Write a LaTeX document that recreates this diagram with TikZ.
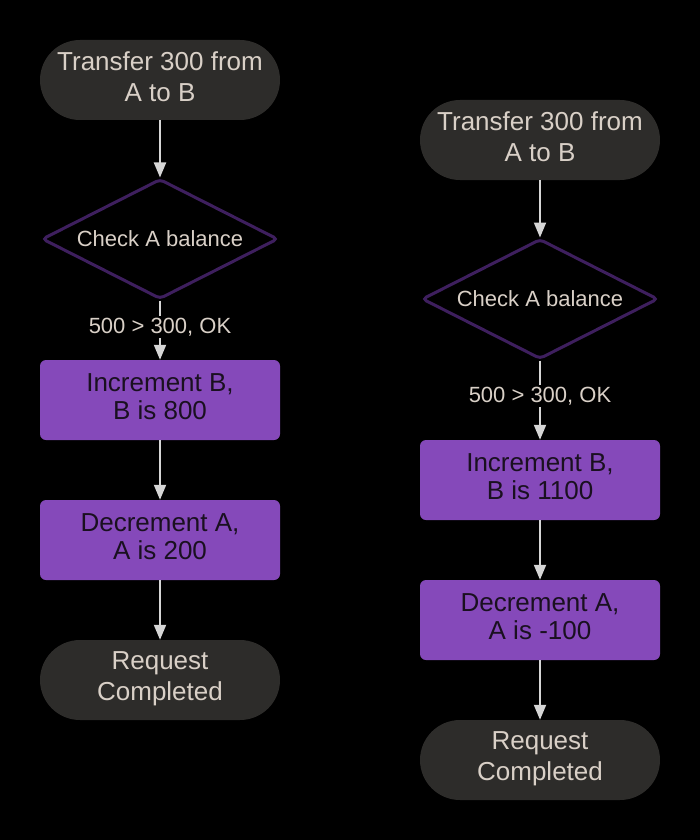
\documentclass[tikz,border=0pt]{standalone}
\usepackage{fontspec}
\setmainfont{Liberation Sans}
\usetikzlibrary{arrows.meta,shapes.geometric}
\definecolor{termfill}{HTML}{2D2C2A}
\definecolor{termtext}{HTML}{D9D0C7}
\definecolor{boxfill}{HTML}{8549BA}
\definecolor{boxtext}{HTML}{1A1020}
\definecolor{diastroke}{HTML}{3E1F5E}
\definecolor{linecol}{HTML}{D6D6D6}
\newcommand{\lowstrut}{\rule[-7.5pt]{0pt}{0pt}}
\newcommand{\lowstrutb}{\rule[-6.5pt]{0pt}{0pt}}
\tikzset{
  terminal/.style={rectangle, rounded corners=40pt, fill=termfill, text=termtext,
    minimum width=240pt, minimum height=80pt, inner sep=0pt, align=center,
    font=\fontsize{26}{31}\selectfont},
  procbox/.style={rectangle, rounded corners=6pt, fill=boxfill, text=boxtext,
    minimum width=240pt, minimum height=80pt, inner sep=0pt, align=center,
    font=\fontsize{26}{28}\selectfont},
  decision/.style={diamond, aspect=1.97, draw=diastroke, line width=3pt, fill=black, rounded corners=4pt,
    minimum width=236pt, minimum height=120pt, inner sep=0pt, text=termtext,
    font=\fontsize{22}{26}\selectfont},
  arr/.style={draw=linecol, line width=2pt, -{Triangle[length=15pt,width=12pt]}, color=linecol},
  lbl/.style={fill=black, text=termtext, inner sep=2pt, font=\fontsize{22}{26}\selectfont}
}
\begin{document}
\begin{tikzpicture}[x=1pt,y=-1pt]
\fill[black] (0,0) rectangle (700,840);
\useasboundingbox (0,0) rectangle (700,840);
% left column
\node[terminal] (lt) at (160,80) {Transfer 300 from\\A to B\lowstrut};
\node[decision] (ld) at (160,239) {Check A balance};
\node[procbox] (lb1) at (160,400) {Increment B,\\B is 800\lowstrutb};
\node[procbox] (lb2) at (160,540) {Decrement A,\\A is 200\lowstrutb};
\node[terminal] (le) at (160,680) {Request\\Completed\lowstrut};
\draw[arr] (lt) -- (ld);
\draw[arr] (ld.south) -- (lb1.north) node[lbl, pos=0.45] (ll) {500 > 300, OK};
\draw[arr] (lb1) -- (lb2);
\draw[arr] (lb2) -- (le);
% right column
\node[terminal] (rt) at (540,140) {Transfer 300 from\\A to B\lowstrut};
\node[decision] (rd) at (540,299) {Check A balance};
\node[procbox] (rb1) at (540,480) {Increment B,\\B is 1100\lowstrutb};
\node[procbox] (rb2) at (540,620) {Decrement A,\\A is -100\lowstrutb};
\node[terminal] (re) at (540,760) {Request\\Completed\lowstrut};
\draw[arr] (rt) -- (rd);
\draw[arr] (rd.south) -- (rb1.north) node[lbl, pos=0.45] (rl) {500 > 300, OK};
\draw[arr] (rb1) -- (rb2);
\draw[arr] (rb2) -- (re);
\end{tikzpicture}
\end{document}
